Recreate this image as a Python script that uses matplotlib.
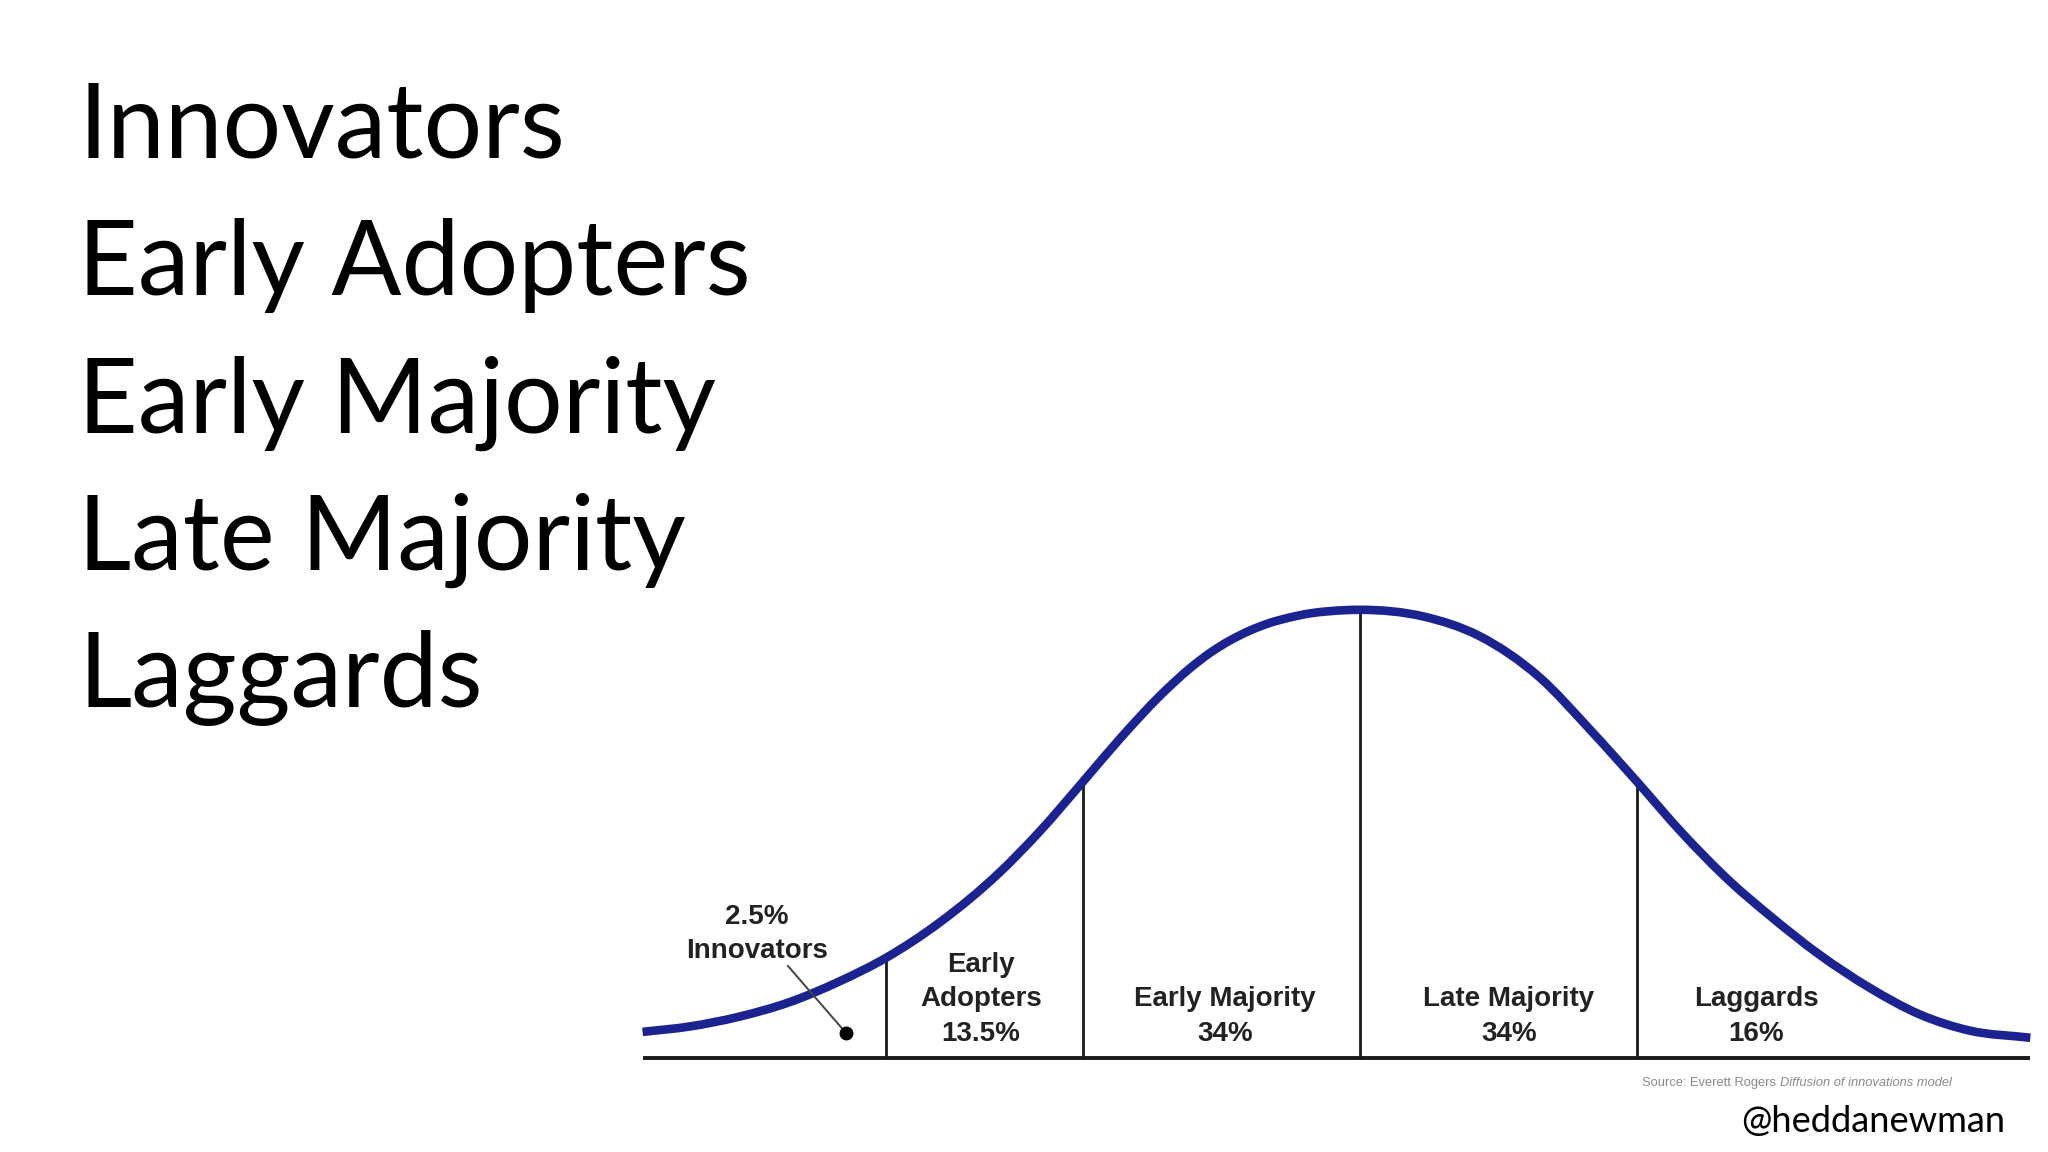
import matplotlib
matplotlib.use("Agg")
import matplotlib.pyplot as plt
from matplotlib.path import Path
from matplotlib.patches import PathPatch
import numpy as np

# ---------------- data ----------------
categories = ["Innovators", "Early Adopters", "Early Majority", "Late Majority", "Laggards"]
shares = [2.5, 13.5, 34, 34, 16]
# curve: x in standard deviations, y relative height (peak ~ 1)
curve_x = [-2.59, -2.42, -2.24, -2.06, -1.88, -1.71, -1.52, -1.30, -1.16, -1.00,
           -0.866, -0.722, -0.614, -0.542, -0.469, -0.397, -0.325, -0.253, -0.181,
           -0.108, 0.00, 0.23, 0.43, 0.65, 0.83, 1.00, 1.16, 1.34, 1.48, 1.66,
           1.84, 2.02, 2.20, 2.42]
curve_y = [0.058, 0.070, 0.092, 0.124, 0.170, 0.223, 0.300, 0.413, 0.501, 0.614,
           0.710, 0.805, 0.866, 0.900, 0.928, 0.950, 0.967, 0.979, 0.988,
           0.993, 0.996, 0.981, 0.938, 0.845, 0.730, 0.614, 0.502, 0.390, 0.316, 0.229,
           0.156, 0.097, 0.061, 0.045]
boundaries = [-1.71, -1.00, 0.00, 1.00]
source_text = "Source: Everett Rogers "
source_italic = "Diffusion of innovations model"
handle = "@heddanewman"

# ---------------- layout ----------------
W, H = 2048, 1152
MEAN_PX, SD_PX = 1360, 277
BASE_PX, UNIT_PX = 1058, 450

fig = plt.figure(figsize=(W / 100, H / 100), dpi=100)
fig.patch.set_facecolor("white")
ax = fig.add_axes([0, 0, 1, 1])
ax.set_xlim(-MEAN_PX / SD_PX, (W - MEAN_PX) / SD_PX)
ax.set_ylim(-(H - BASE_PX) / UNIT_PX, BASE_PX / UNIT_PX)
ax.axis("off")

def ydat(py):
    return (BASE_PX - py) / UNIT_PX

def xdat(px):
    return (px - MEAN_PX) / SD_PX

renderer = fig.canvas.get_renderer()

def fit(texts, width_px):
    for _ in range(3):
        x0 = min(t.get_window_extent(renderer).x0 for t in texts)
        x1 = max(t.get_window_extent(renderer).x1 for t in texts)
        for t in texts:
            t.set_fontsize(t.get_fontsize() * width_px / (x1 - x0))

# ---- big list on the left ----
big_font = ["Lato", "DejaVu Sans"]
big_texts = []
for i, c in enumerate(categories):
    t = fig.text(78 / W, 1 - (158 + i * 137.3) / H, c, fontsize=80,
                 family=big_font, color="black", ha="left", va="baseline")
    big_texts.append(t)
fit([big_texts[1]], 673)
for t in big_texts:
    t.set_fontsize(big_texts[1].get_fontsize())

# ---- smooth curve through the read points (cubic Hermite -> Bezier) ----
xs = np.asarray(curve_x, float)
ys = np.asarray(curve_y, float)
h = np.diff(xs)
d = np.diff(ys) / h
m = np.empty_like(xs)
m[0], m[-1] = d[0], d[-1]
m[1:-1] = (d[1:] * h[:-1] + d[:-1] * h[1:]) / (h[:-1] + h[1:])
verts = [(xs[0], ys[0])]
codes = [Path.MOVETO]
for i in range(len(xs) - 1):
    verts += [(xs[i] + h[i] / 3, ys[i] + m[i] * h[i] / 3),
              (xs[i + 1] - h[i] / 3, ys[i + 1] - m[i + 1] * h[i] / 3),
              (xs[i + 1], ys[i + 1])]
    codes += [Path.CURVE4] * 3
curve_color = "#1b2390"
ax.add_patch(PathPatch(Path(verts, codes), fill=False, edgecolor=curve_color,
                       lw=6.2, joinstyle="round", capstyle="butt", zorder=3))

ax.plot([curve_x[0], curve_x[-1]], [0, 0], color="#1a1a1a", lw=2.8, zorder=2,
        solid_capstyle="butt")
for b in boundaries:
    top = np.interp(b, curve_x, curve_y)
    ax.plot([b, b], [0, top], color="#1a1a1a", lw=2.0, zorder=2)

# ---- labels under the curve ----
lab_kw = dict(family=["Liberation Sans", "DejaVu Sans"], fontweight="bold",
              fontsize=20, color="#222222", ha="center", va="baseline", zorder=4)
label_x = [757, 981, 1225, 1509, 1756]
line_gap = 34.5
for i, (c, s) in enumerate(zip(categories, shares)):
    pct = f"{s:g}%"
    if i == 0:
        lines = [pct, c]
        last = 958
    else:
        if c == "Early Adopters":
            lines = c.split(" ") + [pct]
        else:
            lines = [c, pct]
        last = 1041
    n = len(lines)
    for k, ln in enumerate(lines):
        py = last - (n - 1 - k) * line_gap
        ax.text(xdat(label_x[i]), ydat(py), ln, **lab_kw)

# innovators pointer
ax.plot([xdat(788), xdat(846)], [ydat(966), ydat(1033)], color="#444444", lw=1.4, zorder=4)
ax.plot([xdat(846)], [ydat(1033)], marker="o", ms=9, color="black", zorder=5)

# ---- source note ----
src_kw = dict(fontsize=6.5, color="#8a8a8a", family=["Liberation Sans", "DejaVu Sans"],
              ha="left", va="baseline")
s1 = ax.text(xdat(1642), ydat(1086), source_text, **src_kw)
s2 = ax.text(0, ydat(1086), source_italic, style="italic", **src_kw)

def place_src():
    bb = s1.get_window_extent(renderer)
    x2 = ax.transData.inverted().transform((bb.x1, bb.y0))[0]
    s2.set_x(x2)

for _ in range(3):
    place_src()
    fit([s1, s2], 291)
place_src()

# ---- handle ----
th = fig.text(2005 / W, 1 - 1132 / H, handle, fontsize=26, family=big_font,
              color="black", ha="right", va="baseline")
fit([th], 265)

fig.savefig("out.png", dpi=100, facecolor="white")
